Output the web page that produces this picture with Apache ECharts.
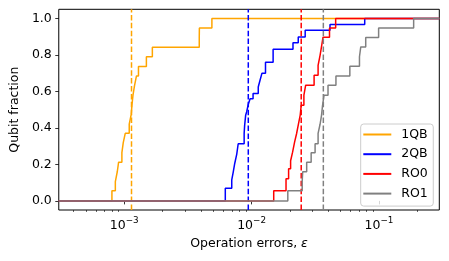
<!DOCTYPE html>
<html><head><meta charset="utf-8">
<script src="https://cdn.jsdelivr.net/npm/echarts@6/dist/echarts.min.js"></script>
<style>html,body{margin:0;padding:0;background:#fff}#c{width:449px;height:261px}</style>
</head><body><div id="c"></div>
<script>
const seriesNames = ['1QB', '2QB', 'RO0', 'RO1'];
const seriesColors = ['#FFA500', '#0000FF', '#FF0000', '#808080'];

const qb1Err = [0.00080,0.000851,0.000882,0.000903,0.000958,0.000982,0.001018,0.001094,0.001134,0.00115,0.001171,0.001203,0.001247,0.001293,0.001492,0.001662,0.003882,0.00389,0.004878];
const qb1Frac = [0.055,0.106,0.161,0.212,0.264,0.319,0.37,0.42,0.474,0.527,0.579,0.63,0.685,0.736,0.79,0.842,0.895,0.948,1.0];

const qb2Err = [0.006216,0.006985,0.007175,0.007371,0.007641,0.007849,0.008741,0.00882,0.00898,0.009141,0.009426,0.009734,0.01027,0.01128,0.01165,0.01207,0.01286,0.01476,0.02114,0.02325,0.02636,0.04129,0.07735];
const qb2Frac = [0.069,0.115,0.157,0.205,0.255,0.313,0.37,0.414,0.469,0.487,0.53,0.56,0.588,0.624,0.661,0.70,0.76,0.831,0.867,0.898,0.935,0.967,1.0];

const ro0Err = [0.01492,0.01864,0.01953,0.02025,0.02099,0.02176,0.02255,0.02337,0.02409,0.02453,0.02575,0.0266,0.03097,0.03329,0.0345,0.03557,0.03641,0.04092,0.04573];
const ro0Frac = [0.055,0.121,0.176,0.22,0.267,0.322,0.368,0.423,0.47,0.524,0.579,0.634,0.688,0.743,0.798,0.853,0.897,0.948,1.0];

const ro1Err = [0.01925,0.02497,0.0252,0.02708,0.02936,0.03153,0.03329,0.0345,0.03544,0.03609,0.03707,0.03983,0.04597,0.0591,0.07035,0.07202,0.07876,0.09947,0.1874];
const ro1Frac = [0.055,0.105,0.16,0.212,0.264,0.313,0.37,0.42,0.47,0.524,0.579,0.634,0.685,0.738,0.79,0.844,0.896,0.948,1.0];

const medians = [0.00114, 0.00942, 0.02453, 0.0366];

const xTicksMajor = [0.001, 0.01, 0.1];
const xTicksMinor = [0.0004,0.0005,0.0006,0.0007,0.0008,0.0009,0.002,0.003,0.004,0.005,0.006,0.007,0.008,0.009,0.02,0.03,0.04,0.05,0.06,0.07,0.08,0.09,0.2];
const yTicks = [0, 0.2, 0.4, 0.6, 0.8, 1.0];

const X_MIN = 3.06e-4, X_MAX = 0.298;
const Y_MIN = -0.05, Y_MAX = 1.05;
const FONT = 'DejaVu Sans';
const FS = 12.5;

const errs = [qb1Err, qb2Err, ro0Err, ro1Err];
const fracs = [qb1Frac, qb2Frac, ro0Frac, ro1Frac];

const chart = echarts.init(document.getElementById('c'), null, {renderer: 'canvas'});

const series = [];
seriesNames.forEach((name, k) => {
  const data = [[X_MIN, 0]];
  errs[k].forEach((e, i) => data.push([e, fracs[k][i]]));
  data.push([X_MAX, 1]);
  series.push({
    type: 'line', name, step: 'end', data,
    symbol: 'none', showSymbol: false,
    lineStyle: {width: 1.5, color: seriesColors[k]},
    itemStyle: {color: seriesColors[k]},
    animation: false, z: 2
  });
  series.push({
    type: 'line', name: name + ' median', data: [[medians[k], Y_MIN], [medians[k], Y_MAX]],
    symbol: 'none', showSymbol: false, silent: true,
    lineStyle: {width: 1.5, color: seriesColors[k], type: [5.5, 2.4]},
    itemStyle: {color: seriesColors[k]},
    animation: false, z: 2
  });
});

function fmtPow(v) {
  const e = Math.round(Math.log10(v));
  return '{b|10}{s|' + (e < 0 ? '\u2212' + (-e) : e) + '}';
}

chart.setOption({
  animation: false,
  grid: {left: 55.7, right: 9.7, top: 9.3, bottom: 51, show: true, borderColor: '#000', borderWidth: 1, containLabel: false},
  legend: {
    orient: 'vertical', left: 360.7, top: 124,
    icon: 'rect', itemWidth: 28, itemHeight: 2, itemGap: 6.7,
    padding: [4, 5.5, 6, 2.6],
    backgroundColor: 'rgba(255,255,255,0.8)', borderColor: '#cccccc', borderWidth: 1, borderRadius: 3,
    textStyle: {fontSize: FS, color: '#000', fontFamily: FONT, lineHeight: 12, padding: [0, 0, 0, 5]},
    data: seriesNames, z: 10
  },
  xAxis: [{
    type: 'log', logBase: 10, min: X_MIN, max: X_MAX,
    axisLine: {show: false}, splitLine: {show: false},
    axisTick: {show: true, length: 3.5, lineStyle: {color: '#000', width: 0.8}, customValues: xTicksMajor},
    axisLabel: {
      customValues: xTicksMajor, margin: 6, formatter: fmtPow,
      rich: {
        b: {fontSize: FS, fontFamily: FONT, color: '#000', lineHeight: 16, verticalAlign: 'bottom'},
        s: {fontSize: 8.8, fontFamily: FONT, color: '#000', lineHeight: 10, verticalAlign: 'top'}
      }
    },
    name: 'Operation errors, {i|ε}', nameLocation: 'middle', nameGap: 27,
    nameTextStyle: {fontSize: FS, fontFamily: FONT, color: '#000', rich: {i: {fontSize: FS, fontFamily: FONT, fontStyle: 'italic', color: '#000'}}}
  }, {
    type: 'log', logBase: 10, min: X_MIN, max: X_MAX, position: 'bottom',
    axisLine: {show: false}, splitLine: {show: false},
    axisTick: {show: true, length: 2, lineStyle: {color: '#000', width: 0.6}, customValues: xTicksMinor},
    axisLabel: {show: false}
  }],
  yAxis: {
    type: 'value', min: Y_MIN, max: Y_MAX,
    axisLine: {show: false}, splitLine: {show: false},
    axisTick: {show: true, length: 3.5, lineStyle: {color: '#000', width: 0.8}, customValues: yTicks},
    axisLabel: {customValues: yTicks, margin: 7, formatter: v => v.toFixed(1), fontSize: FS, fontFamily: FONT, color: '#000'},
    name: 'Qubit fraction', nameLocation: 'middle', nameGap: 35, nameRotate: 90,
    nameTextStyle: {fontSize: FS, fontFamily: FONT, color: '#000'}
  },
  series
});
</script></body></html>
